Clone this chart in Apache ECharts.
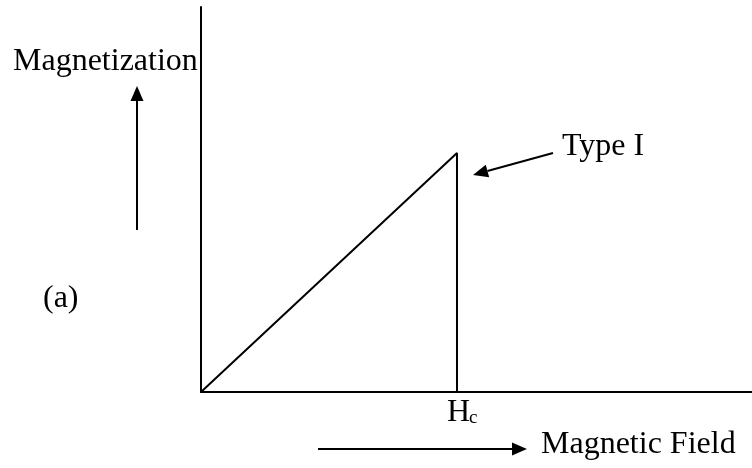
<!DOCTYPE html>
<html>
<head>
<meta charset="utf-8">
<script src="https://cdn.jsdelivr.net/npm/echarts@6/dist/echarts.min.js"></script>
<style>
  html, body { margin: 0; padding: 0; background: #fff; }
  #chart { width: 752px; height: 468px; }
</style>
</head>
<body>
<div id="chart"></div>
<script>
// field / magnetization curve for a type I superconductor (arbitrary units)
const fieldValues = [0, 46.46, 46.46];
const magnetization = [0, 6.21, 0];
const criticalField = 46.46;

const FONT = '"Liberation Serif", "Times New Roman", serif';

const chart = echarts.init(document.getElementById('chart'));

const option = {
  animation: false,
  grid: { left: 201, right: 0, top: 7, bottom: 76 },
  xAxis: {
    type: 'value', min: 0, max: 100,
    axisLine: { show: true, onZero: false, lineStyle: { color: '#000', width: 2 } },
    axisTick: { show: false }, axisLabel: { show: false }, splitLine: { show: false }
  },
  yAxis: {
    type: 'value', min: 0, max: 10,
    axisLine: { show: true, onZero: false, lineStyle: { color: '#000', width: 2 } },
    axisTick: { show: false }, axisLabel: { show: false }, splitLine: { show: false }
  },
  series: [{
    type: 'line',
    data: fieldValues.map((x, i) => [x, magnetization[i]]),
    symbol: 'none',
    lineStyle: { color: '#000', width: 2 }
  }]
};
chart.setOption(option);

// annotations placed relative to the curve
const peak = chart.convertToPixel({ gridIndex: 0 }, [criticalField, magnetization[1]]);
const hc = chart.convertToPixel({ gridIndex: 0 }, [criticalField, 0]);

function txt(x, y, s, size) {
  return {
    type: 'text', x: x, y: y,
    style: { text: s, font: size + 'px ' + FONT, fill: '#000', verticalAlign: 'middle' }
  };
}
function arrow(x1, y1, x2, y2) {
  const dx = x2 - x1, dy = y2 - y1, len = Math.sqrt(dx * dx + dy * dy);
  const ux = dx / len, uy = dy / len, hl = 15, hw = 6.5;
  const bx = x2 - ux * hl, by = y2 - uy * hl;
  return [
    { type: 'line', shape: { x1: x1, y1: y1, x2: bx, y2: by }, style: { stroke: '#000', lineWidth: 2 } },
    { type: 'polygon', shape: { points: [[x2, y2], [bx - uy * hw, by + ux * hw], [bx + uy * hw, by - ux * hw]] },
      style: { fill: '#000' } }
  ];
}

chart.setOption({
  graphic: [
    txt(13, 62, 'Magnetization', 32),
    ...arrow(137, 230, 137, 86),
    txt(43, 299, '(a)', 32),
    txt(peak[0] + 105, peak[1] - 6, 'Type I', 32),
    ...arrow(peak[0] + 96, peak[1], peak[0] + 16, peak[1] + 22),
    txt(hc[0] - 10, hc[1] + 21, 'H', 32),
    txt(hc[0] + 12, hc[1] + 26, 'c', 19),
    ...arrow(318, 449, 527, 449),
    txt(541, 445, 'Magnetic Field', 32)
  ]
});
</script>
</body>
</html>
